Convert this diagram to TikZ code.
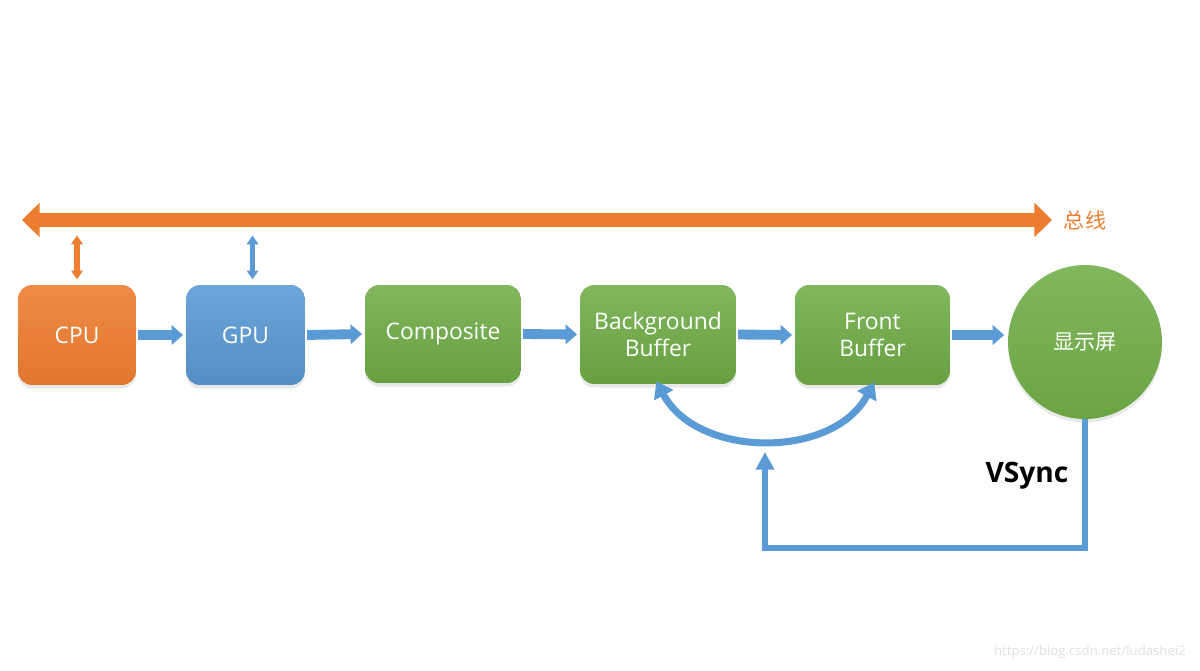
\documentclass[tikz,border=0pt]{standalone}
\usepackage{fontspec}
\setmainfont{Open Sans}
\newfontfamily\cjk{Noto Sans CJK SC}
\usetikzlibrary{arrows.meta,shadows}
\definecolor{cpuorange}{HTML}{ED7D31}
\definecolor{gpublue}{HTML}{5B9BD5}
\definecolor{bufgreen}{HTML}{70AD47}
\tikzset{
    unit/.style={rounded corners=8pt, text=white, align=center,
        font=\fontsize{13}{15.5}\selectfont,
        drop shadow={opacity=0.18, shadow xshift=0pt, shadow yshift=-2pt}},
    orangeunit/.style={unit, top color=cpuorange!90!white, bottom color=cpuorange!95!black},
    blueunit/.style={unit, top color=gpublue!90!white, bottom color=gpublue!92!black},
    greenunit/.style={unit, top color=bufgreen!88!white, bottom color=bufgreen!92!black},
    flow/.style={draw=gpublue, line width=5.6pt, -{Triangle[length=6.5pt,width=11pt]}},
}
\begin{document}
\begin{tikzpicture}[x=0.02cm, y=-0.02cm]
    \useasboundingbox (0,0) rectangle (1200,671);
    % bus
    \coordinate (busL) at (22,220);
    \coordinate (busR) at (1052,220);
    \draw[draw=cpuorange, line width=8.5pt,
        {Triangle[length=10pt,width=19pt]}-{Triangle[length=10pt,width=19pt]}]
        (busL) -- (busR);
    \node[text=cpuorange, font=\cjk\fontsize{12}{14}\selectfont] (bus-label) at (1085,220) {总线};
    % units
    \node[orangeunit, minimum width=2.36cm, minimum height=2cm] (cpu) at (77,335) {CPU};
    \node[blueunit, minimum width=2.38cm, minimum height=2cm] (gpu) at (245.5,335) {GPU};
    \node[greenunit, minimum width=3.12cm, minimum height=1.96cm] (comp) at (443,334) {Composite};
    \node[greenunit, minimum width=3.12cm, minimum height=1.98cm] (back) at (658,334.5) {Background\\Buffer};
    \node[greenunit, minimum width=3.1cm, minimum height=2cm] (front) at (872.5,335) {Front\\Buffer};
    \node[circle, minimum size=3.08cm, text=white, top color=bufgreen!88!white,
        bottom color=bufgreen!95!black, font=\cjk\fontsize{12}{14}\selectfont,
        drop shadow={opacity=0.18, shadow xshift=0pt, shadow yshift=-2pt}] (screen) at (1085,342) {显示屏};
    % bus taps
    \draw[draw=cpuorange, line width=3pt, {Triangle[length=5pt,width=6.5pt]}-{Triangle[length=5pt,width=6.5pt]},
        shorten <=2pt] (cpu.north |- busL) ++(0,12) -- ([yshift=3pt]cpu.north);
    \draw[draw=gpublue, line width=3pt, {Triangle[length=5pt,width=6.5pt]}-{Triangle[length=5pt,width=6.5pt]},
        shorten <=2pt] ([xshift=4pt]gpu.north |- busL) ++(0,12) -- ([xshift=4pt,yshift=3pt]gpu.north);
    % pipeline
    \foreach \a/\b in {cpu/gpu, gpu/comp, comp/back, back/front} {
        \draw[flow, shorten <=1pt, shorten >=1.5pt] (\a.east) -- (\b.west);
    }
    \draw[flow, shorten <=1pt, shorten >=2pt] (front.east) -- (front.east -| screen.west);
    % swap
    \draw[draw=gpublue, line width=4pt,
        {Triangle[length=9pt,width=12pt]}-{Triangle[length=9pt,width=12pt]}, shorten <=-2pt, shorten >=-2pt]
        (back.south) to[out=-62, in=-118] (front.south);
    % vsync
    \coordinate (vtip) at (765,452);
    \coordinate (vbot) at (765,548);
    \draw[draw=gpublue, line width=3.4pt, miter limit=4, -{Triangle[length=10pt,width=10pt]}]
        (screen.south) |- (vbot) -- (vtip);
    \node[font=\bfseries\fontsize{16}{19}\selectfont] (vsync) at (1027,476) {VSync};
    % watermark
    \node[anchor=east, text=black!12, font=\fontsize{7.5}{9}\selectfont] (mark) at (1192,652) {https://blog.csdn.net/ludashei2};
\end{tikzpicture}
\end{document}
